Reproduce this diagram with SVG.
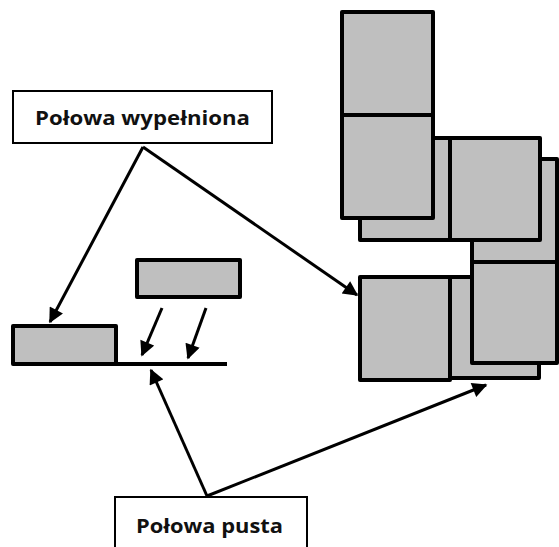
<svg xmlns="http://www.w3.org/2000/svg" width="559" height="547" viewBox="0 0 559 547">
<defs>
<style>
.blk{fill:#bfbfbf;stroke:#000;stroke-width:4;stroke-linejoin:round}
.lbl{fill:#fff;stroke:#000;stroke-width:2}
.txt{font-family:"Open Sans","Liberation Sans",sans-serif;font-weight:bold;font-size:19.5px;fill:#111}
.con{stroke:#000;stroke-width:3;fill:none}
</style>
<marker id="ah" viewBox="0 0 10 10" refX="9" refY="5" markerWidth="5.5" markerHeight="5" orient="auto" markerUnits="strokeWidth">
<path d="M0,0 L10,5 L0,10 z" fill="#000"/>
</marker>
</defs>
<rect width="559" height="547" fill="#fff"/>
<g id="stack-right">
<rect class="blk" x="360" y="138" width="90" height="102"/>
<rect class="blk" x="472" y="159" width="85" height="110"/>
<rect class="blk" x="450" y="138" width="90" height="102"/>
<rect class="blk" x="342" y="12" width="91" height="103"/>
<rect class="blk" x="342" y="115" width="91" height="103"/>
<rect class="blk" x="450" y="277" width="89" height="101"/>
<rect class="blk" x="360" y="277" width="90" height="103"/>
<rect class="blk" x="472" y="262" width="85" height="101"/>
</g>
<g id="left-block">
<rect class="blk" x="13" y="326" width="103" height="38"/>
</g>
<g id="falling-block">
<rect class="blk" x="137" y="260" width="103" height="37"/>
</g>
<g id="floor">
<line x1="116" y1="364" x2="227" y2="364" stroke="#000" stroke-width="4"/>
</g>
<g id="label-filled">
<rect class="lbl" x="13" y="91" width="259" height="52"/>
<text class="txt" x="35" y="125" textLength="215" lengthAdjust="spacingAndGlyphs">Połowa wypełniona</text>
</g>
<g id="label-empty">
<rect class="lbl" x="115" y="497" width="192" height="60"/>
<text class="txt" x="136" y="533" textLength="147" lengthAdjust="spacingAndGlyphs">Połowa pusta</text>
</g>
<g id="connectors">
<line class="con" x1="143" y1="147" x2="50" y2="322" marker-end="url(#ah)"/>
<line class="con" x1="143" y1="147" x2="357" y2="295" marker-end="url(#ah)"/>
<line class="con" x1="162" y1="308" x2="142" y2="355" marker-end="url(#ah)"/>
<line class="con" x1="206" y1="308" x2="188" y2="358" marker-end="url(#ah)"/>
<line class="con" x1="207" y1="496" x2="151" y2="370" marker-end="url(#ah)"/>
<line class="con" x1="207" y1="496" x2="486" y2="385" marker-end="url(#ah)"/>
</g>
</svg>
